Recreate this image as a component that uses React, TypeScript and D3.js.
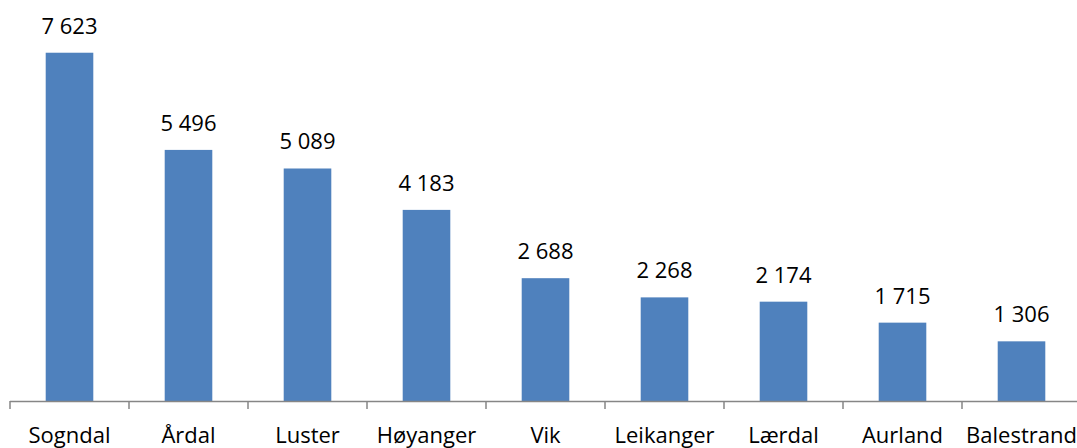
import React, { useEffect, useRef } from 'react';
import * as d3 from 'd3';

const categories = ['Sogndal', 'Årdal', 'Luster', 'Høyanger', 'Vik', 'Leikanger', 'Lærdal', 'Aurland', 'Balestrand'];
const values = [7623, 5496, 5089, 4183, 2688, 2268, 2174, 1715, 1306];

const width = 1077;
const height = 448;

const fmt = (v: number) => d3.format(',')(v).replace(/,/g, ' ');

const App = () => {
    const svgRef = useRef<SVGSVGElement>(null);

    useEffect(() => {
        if (!svgRef.current) return;
        const svg = d3.select(svgRef.current);
        svg.selectAll('*').remove();

        const baseY = 401;
        const font = '"Open Sans", sans-serif';

        const x = d3.scaleBand<string>()
            .domain(categories)
            .range([10, 1081])
            .paddingInner(0.6)
            .paddingOuter(0.3);

        const y = d3.scaleLinear()
            .domain([0, 8000])
            .range([baseY, 35.5]);

        const step = x.step();
        const offset = step * 0.3;

        // Bars
        svg.append('g')
            .selectAll('rect')
            .data(values)
            .join('rect')
            .attr('x', (d, i) => x(categories[i])!)
            .attr('y', d => y(d))
            .attr('width', x.bandwidth())
            .attr('height', d => baseY - y(d))
            .attr('fill', '#4f81bd');

        // Value labels
        svg.append('g')
            .selectAll('text')
            .data(values)
            .join('text')
            .attr('x', (d, i) => x(categories[i])! + x.bandwidth() / 2)
            .attr('y', d => y(d) - 19)
            .attr('text-anchor', 'middle')
            .attr('fill', '#000')
            .style('font-family', font)
            .style('font-size', '22px')
            .text(d => fmt(d));

        // Axis line + boundary ticks
        const axis = svg.append('g');
        axis.append('line')
            .attr('x1', 10)
            .attr('x2', 1081)
            .attr('y1', baseY + 0.5)
            .attr('y2', baseY + 0.5)
            .attr('stroke', '#868686')
            .attr('stroke-width', 1.5);

        const boundaries = categories.map(c => x(c)! - offset).concat([x(categories[categories.length - 1])! - offset + step]);
        axis.selectAll('line.tick')
            .data(boundaries)
            .join('line')
            .attr('class', 'tick')
            .attr('x1', d => d)
            .attr('x2', d => d)
            .attr('y1', baseY)
            .attr('y2', baseY + 8)
            .attr('stroke', '#868686')
            .attr('stroke-width', 1.5);

        // Category labels
        axis.selectAll('text')
            .data(categories)
            .join('text')
            .attr('x', d => x(d)! + x.bandwidth() / 2)
            .attr('y', 443)
            .attr('text-anchor', 'middle')
            .attr('fill', '#000')
            .style('font-family', font)
            .style('font-size', '22px')
            .text(d => d);
    }, []);

    return (
        <div style={{ position: 'fixed', left: 0, top: 0, width, height, background: '#fff' }}>
            <svg ref={svgRef} width={width} height={height} style={{ display: 'block' }} />
        </div>
    );
};

export default App;
